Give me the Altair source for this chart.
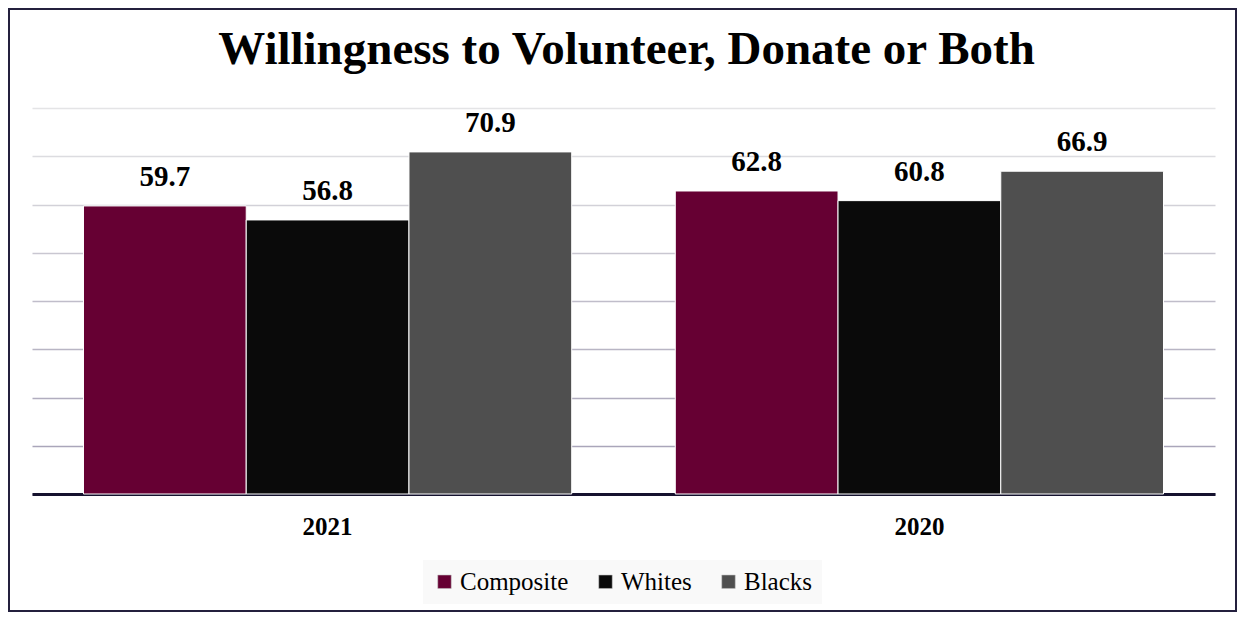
import altair as alt
import pandas as pd

years = ["2021", "2020"]
groups = ["Composite", "Whites", "Blacks"]
composite = [59.7, 62.8]
whites = [56.8, 60.8]
blacks = [70.9, 66.9]
colors = ["#660033", "#0a0a0a", "#4f4f4f"]
grid_values = [0, 10, 20, 30, 40, 50, 60, 70, 80]
title_text = ["Willingness to Volunteer, Donate or Both"]

rows = []
for i, y in enumerate(years):
    for g, vals in zip(groups, [composite, whites, blacks]):
        rows.append({"year": y, "group": g, "value": vals[i]})
df = pd.DataFrame(rows)

W, H = 1183, 386
serif = "'Liberation Serif', 'Times New Roman', serif"

grid_color = {
    "condition": [
        {"test": "datum.value >= 80", "value": "#e4e4e6"},
        {"test": "datum.value >= 70", "value": "#dcdce0"},
        {"test": "datum.value >= 60", "value": "#d2d1d8"},
        {"test": "datum.value >= 50", "value": "#c9c7d1"},
        {"test": "datum.value >= 40", "value": "#c0bdca"},
        {"test": "datum.value >= 30", "value": "#b8b5c4"},
        {"test": "datum.value >= 20", "value": "#b1adbf"},
    ],
    "value": "#aaa6ba",
}

x = alt.X("year:N", sort=years,
          scale=alt.Scale(paddingInner=0.175, paddingOuter=0.087),
          axis=alt.Axis(title=None, labelAngle=0, labelFont=serif, labelFontSize=25,
                        labelFontWeight="bold", labelColor="#000000", labelPadding=20,
                        ticks=False, domainColor="#15122e", domainWidth=3, grid=False))
xo = alt.XOffset("group:N", sort=groups, scale=alt.Scale(paddingInner=0, paddingOuter=0))
y = alt.Y("value:Q", scale=alt.Scale(domain=[0, 80], nice=False),
          axis=alt.Axis(title=None, labels=False, ticks=False, domain=False,
                        values=grid_values, gridColor=grid_color, gridWidth=1.5))

bars = alt.Chart(df).mark_bar(stroke="#ffffff", strokeWidth=1).encode(
    x=x, xOffset=xo, y=y,
    color=alt.Color("group:N", sort=groups,
                    scale=alt.Scale(domain=groups, range=colors),
                    legend=alt.Legend(title=None, orient="none", direction="horizontal",
                                      legendX=391, legendY=452,
                                      symbolType="square", symbolSize=180,
                                      symbolStrokeColor="#bbbbbb", symbolStrokeWidth=0.5,
                                      labelFont=serif, labelFontSize=25, labelColor="#000000",
                                      columnPadding=24, labelOffset=3,
                                      fillColor="#f9f9f9", padding=9)),
)

labels = alt.Chart(df).mark_text(font=serif, fontSize=29, fontWeight="bold",
                                 baseline="alphabetic", dy=-20, color="#000000").encode(
    x=alt.X("year:N", sort=years), xOffset=alt.XOffset("group:N", sort=groups),
    y="value:Q", text=alt.Text("value:Q", format=".1f"),
)

title = alt.Chart(pd.DataFrame({"t": title_text})).mark_text(
    font=serif, fontSize=47, fontWeight="bold", color="#000000",
    align="center", baseline="alphabetic").encode(
    x=alt.value(W / 2 + 3), y=alt.value(-44), text="t:N",
)

frame = alt.Chart(df).mark_rect(fillOpacity=0, stroke="#24213f", strokeWidth=1.5, clip=False).encode(
    x=alt.value(-23), x2=alt.value(W + 21), y=alt.value(-99), y2=alt.value(H + 117),
)

chart = alt.layer(bars, labels, title, frame).properties(
    width=W, height=H, background="#ffffff",
    autosize=alt.AutoSizeParams(type="none"),
    padding={"left": 24, "top": 100, "right": 22, "bottom": 118},
).configure_view(strokeWidth=0, stroke="transparent").configure_legend(
    labelFont=serif, labelFontSize=25)

chart.save("out.html", embed_options={"renderer": "svg", "actions": False})
